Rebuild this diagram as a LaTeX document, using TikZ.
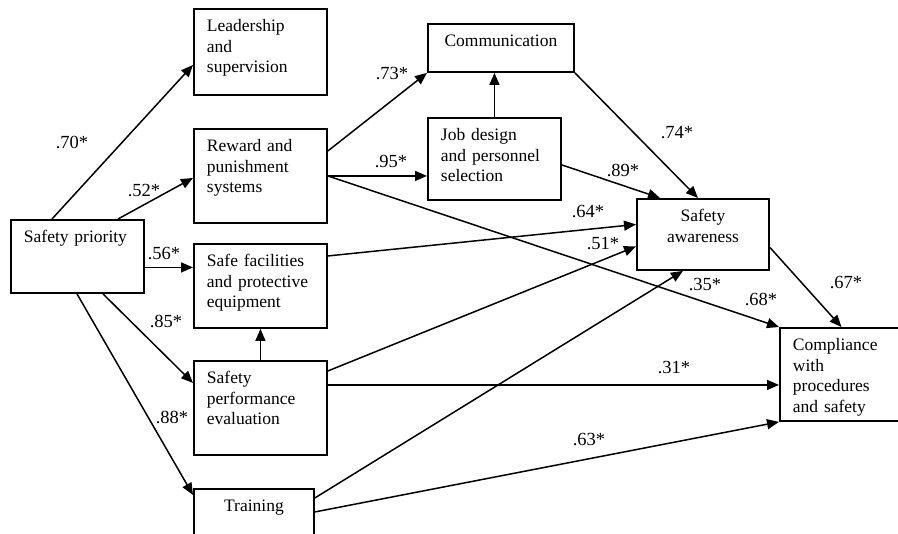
\documentclass[tikz,border=0pt]{standalone}
\usepackage{fontspec}
\setmainfont{Liberation Serif}
\usetikzlibrary{arrows.meta}

\begin{document}
\begin{tikzpicture}[x=1pt, y=-1pt,
  font=\fontsize{17.5}{20.5}\selectfont,
  box/.style={draw, line width=1.9pt, anchor=north west, align=left,
    inner xsep=13pt, inner ysep=0pt, text height=23pt},
  arr/.style={line width=1.5pt, -{Triangle[length=12pt,width=10pt]}},
  wt/.style={inner sep=0pt, font=\fontsize{18.5}{20}\selectfont}]
\useasboundingbox (0,0) rectangle (898,534);

\node[box, text width=107pt, text depth=50pt] (sp) at (10,219) {Safety priority};
\node[box, text width=107pt, text depth=63pt] (lead) at (193,8) {Leadership\\and\\supervision};
\node[box, text width=107pt, text depth=71pt] (rew) at (193,128) {Reward and\\punishment\\systems};
\node[box, text width=107pt, text depth=61pt] (fac) at (193,243) {Safe facilities\\and protective\\equipment};
\node[box, text width=107pt, text depth=71pt] (eval) at (193,360) {Safety\\performance\\evaluation};
\node[box, align=center, text width=94pt, text depth=27pt] (train) at (193,488) {Training};
\node[box, align=center, text width=120pt, text depth=25pt] (comm) at (427,23) {Communication};
\node[box, text width=107pt, text depth=59pt] (job) at (427,117) {Job design\\and personnel\\selection};
\node[box, align=center, text width=106pt, text depth=48pt] (aware) at (636,198) {Safety\\awareness};
\node[box, text width=97pt, text depth=70pt] (comp) at (779,327) {Compliance\\with\\procedures\\and safety};

\draw[arr] ([xshift=42pt]sp.north west) -- ([yshift=-13pt]lead.west);
\draw[arr] ([xshift=108pt]sp.north west) -- ([yshift=-2pt]rew.west);
\draw[arr] ([yshift=-11pt]sp.east) coordinate (p1) -- (p1 -| fac.west);
\draw[arr] ([xshift=93pt]sp.south west) -- ([yshift=25pt]eval.west);
\draw[arr] ([xshift=67pt]sp.south west) -- ([yshift=-7pt]train.north west);
\draw[arr] (eval.north) -- (fac.south);

\draw[arr] ([yshift=25pt]rew.east) -- (comm.south west);
\draw[arr] (rew.east) coordinate (p2) -- (p2 -| job.west);
\draw[arr] (rew.east) -- (comp.north west);
\draw[arr] (job.north) -- (job.north |- comm.south);
\draw[arr] (comm.south east) -- ([xshift=-5pt]aware.north);
\draw[arr] ([yshift=-6pt]job.east) -- ([xshift=24pt]aware.north west);

\draw[arr] ([yshift=30pt]fac.east) -- ([yshift=10pt]aware.west);
\draw[arr] ([yshift=37pt]eval.east) -- ([yshift=-12pt]aware.west);
\draw[arr] ([yshift=23pt]eval.east) coordinate (p3) -- (p3 -| comp.west);
\draw[arr] ([yshift=16pt]train.east) -- ([xshift=-20pt]aware.south);
\draw[arr] ([yshift=2pt]train.east) -- (comp.south west);
\draw[arr] ([yshift=-13pt]aware.east) -- (comp.north);

\node[wt] (w70) at (72,142) {.70*};
\node[wt] (w52) at (144,191) {.52*};
\node[wt] (w56) at (164,254) {.56*};
\node[wt] (w85) at (166,321) {.85*};
\node[wt] (w88) at (172,417) {.88*};
\node[wt] (w73) at (392,74) {.73*};
\node[wt] (w95) at (391,162) {.95*};
\node[wt] (w74) at (677,133) {.74*};
\node[wt] (w89) at (623,170) {.89*};
\node[wt] (w64) at (588,212) {.64*};
\node[wt] (w51) at (603,244) {.51*};
\node[wt] (w35) at (705,285) {.35*};
\node[wt] (w68) at (761,299) {.68*};
\node[wt] (w67) at (846,283) {.67*};
\node[wt] (w31) at (674,368) {.31*};
\node[wt] (w63) at (589,440) {.63*};
\end{tikzpicture}
\end{document}
